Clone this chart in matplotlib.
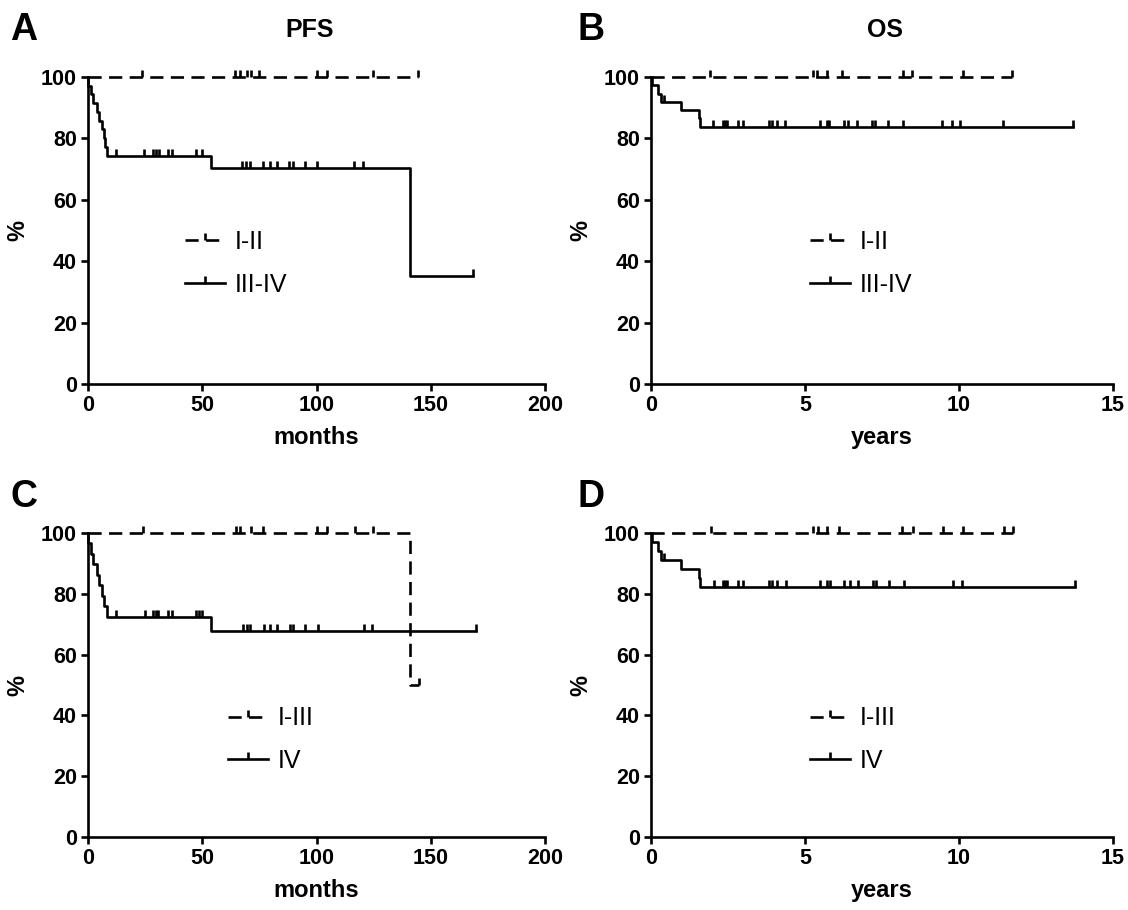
import numpy as np
import matplotlib
matplotlib.use('Agg')
import matplotlib.pyplot as plt
from matplotlib.lines import Line2D

plt.rcParams['font.family'] = ['Liberation Sans', 'DejaVu Sans']

# Data
# A: PFS (months), stage I-II vs III-IV
pfs_I_II_event_t = []
pfs_I_II_surv = []
pfs_I_II_cens = [23.6, 64.3, 66.5, 69.4, 71.5, 75.0, 100.0, 104.7, 124.6, 144.4]
pfs_III_IV_event_t = [0.2, 1.3, 2.3, 3.8, 4.8, 6.0, 6.8, 7.5, 8.3, 53.7, 140.9]
pfs_III_IV_surv = [97.1, 94.3, 91.4, 88.6, 85.7, 82.9, 80.0, 77.1, 74.3, 70.2, 35.1]
pfs_III_IV_cens = [12.3, 24.5, 28.6, 29.8, 30.9, 35.0, 36.8, 47.3, 49.9, 67.3, 69.0,
                   70.9, 76.7, 79.6, 82.6, 88.1, 89.9, 95.0, 100.4, 116.4, 120.2, 168.5]

# B: OS (years), stage I-II vs III-IV
os_I_II_event_t = []
os_I_II_surv = []
os_I_II_cens = [1.92, 5.25, 5.38, 5.73, 6.19, 8.19, 8.46, 10.12, 11.71]
os_III_IV_event_t = [0.03, 0.22, 0.32, 0.97, 1.57, 1.59]
os_III_IV_surv = [97.3, 94.6, 91.9, 89.2, 86.5, 83.8]
os_III_IV_cens = [0.42, 2.0, 2.33, 2.40, 2.48, 2.84, 3.0, 3.84, 3.92, 4.10, 4.35, 5.49,
                  5.73, 5.79, 6.27, 6.41, 6.68, 7.19, 7.27, 7.71, 8.19, 9.44, 9.76,
                  10.03, 11.44, 13.71]

# C: PFS (months), stage I-III vs IV
pfs_I_III_event_t = [140.9]
pfs_I_III_surv = [50.0]
pfs_I_III_cens = [23.9, 64.8, 66.5, 71.2, 76.4, 100.4, 104.7, 116.8, 124.9, 145.0]
pfs_IV_event_t = [0.2, 1.3, 2.3, 3.8, 4.8, 6.0, 7.2, 8.3, 53.7]
pfs_IV_surv = [96.6, 93.1, 89.7, 86.2, 82.8, 79.3, 75.9, 72.4, 67.9]
pfs_IV_cens = [12.3, 24.9, 28.6, 29.8, 30.8, 35.0, 36.8, 47.3, 48.7, 49.9, 67.7, 69.4,
               70.9, 76.9, 79.6, 82.7, 88.3, 89.8, 95.0, 100.8, 120.8, 124.2, 169.8]

# D: OS (years), stage I-III vs IV
os_I_III_event_t = []
os_I_III_surv = []
os_I_III_cens = [1.94, 5.25, 5.41, 5.73, 6.12, 8.14, 8.50, 9.49, 10.12, 11.46, 11.74]
os_IV_event_t = [0.03, 0.22, 0.32, 0.97, 1.57, 1.59]
os_IV_surv = [97.1, 94.1, 91.2, 88.2, 85.3, 82.4]
os_IV_cens = [0.42, 2.05, 2.33, 2.40, 2.48, 2.84, 3.0, 3.84, 3.92, 4.10, 4.38, 5.49,
              5.73, 5.81, 6.27, 6.46, 6.73, 7.20, 7.31, 7.74, 8.21, 9.79, 10.09, 13.77]

DASH = (5, 2.8)
LW = 1.9
UP = [(0, 0), (0, 1)]   # censor tick pointing up


def km(ax, event_t, surv, cens, dashed):
    end = max(list(cens) + list(event_t))
    t = [0] + list(event_t) + [end]
    s = [100] + list(surv) + [surv[-1] if surv else 100]
    ls = (0, DASH) if dashed else '-'
    ax.step(t, s, where='post', color='black', lw=LW, ls=ls, clip_on=False)
    idx = np.searchsorted(t, cens, side='right') - 1
    lev = np.array(s)[idx]
    ax.plot(cens, lev, ls='none', marker=UP, ms=10, mew=LW, color='black', clip_on=False)


def style(ax, xmax, xstep, xlabel):
    ax.set_xlim(0, xmax)
    ax.set_ylim(0, 100)
    ax.set_xticks(np.arange(0, xmax + 1, xstep))
    ax.set_yticks(np.arange(0, 101, 20))
    for sp in ['top', 'right']:
        ax.spines[sp].set_visible(False)
    for sp in ['left', 'bottom']:
        ax.spines[sp].set_linewidth(LW)
    ax.tick_params(direction='out', length=5, width=LW, labelsize=15.5, pad=3)
    for lab in ax.get_xticklabels() + ax.get_yticklabels():
        lab.set_fontweight('bold')
    ax.set_xlabel(xlabel, fontsize=17, fontweight='bold', labelpad=7)
    ax.set_ylabel('%', fontsize=17, fontweight='bold', labelpad=8)


def legend(ax, labels, x, y):
    handles = [Line2D([0], [0], color='black', lw=LW, ls=(0, DASH), marker=UP, ms=10, mew=LW),
               Line2D([0], [0], color='black', lw=LW, ls='-', marker=UP, ms=10, mew=LW)]
    ax.legend(handles, labels, loc='upper left', bbox_to_anchor=(x, y), frameon=False,
              fontsize=18, handlelength=1.6, handletextpad=0.4, labelspacing=0.75,
              borderpad=0, borderaxespad=0, numpoints=1)


fig = plt.figure(figsize=(11.28, 9.10), dpi=100)
W, H = 1128, 910
axA = fig.add_axes([88 / W, 1 - 384 / H, 457 / W, 307 / H])
axB = fig.add_axes([651 / W, 1 - 384 / H, 462 / W, 307 / H])
axC = fig.add_axes([88 / W, 1 - 837 / H, 457 / W, 304 / H])
axD = fig.add_axes([651 / W, 1 - 837 / H, 462 / W, 304 / H])

km(axA, pfs_I_II_event_t, pfs_I_II_surv, pfs_I_II_cens, True)
km(axA, pfs_III_IV_event_t, pfs_III_IV_surv, pfs_III_IV_cens, False)
style(axA, 200, 50, 'months')
legend(axA, ['I-II', 'III-IV'], 0.212, 0.502)

km(axB, os_I_II_event_t, os_I_II_surv, os_I_II_cens, True)
km(axB, os_III_IV_event_t, os_III_IV_surv, os_III_IV_cens, False)
style(axB, 15, 5, 'years')
legend(axB, ['I-II', 'III-IV'], 0.344, 0.502)

km(axC, pfs_I_III_event_t, pfs_I_III_surv, pfs_I_III_cens, True)
km(axC, pfs_IV_event_t, pfs_IV_surv, pfs_IV_cens, False)
style(axC, 200, 50, 'months')
legend(axC, ['I-III', 'IV'], 0.306, 0.43)

km(axD, os_I_III_event_t, os_I_III_surv, os_I_III_cens, True)
km(axD, os_IV_event_t, os_IV_surv, os_IV_cens, False)
style(axD, 15, 5, 'years')
legend(axD, ['I-III', 'IV'], 0.344, 0.43)

# Panel letters and titles
for letter, x, y in [('A', 10, 40), ('B', 578, 40), ('C', 10, 507), ('D', 578, 507)]:
    fig.text(x / W, 1 - y / H, letter, fontsize=27, fontweight='bold', ha='left', va='baseline')
fig.text(310 / W, 1 - 30 / H, 'PFS', fontsize=18, fontweight='bold', ha='center', va='center')
fig.text(885 / W, 1 - 30 / H, 'OS', fontsize=18, fontweight='bold', ha='center', va='center')

fig.savefig('out.png', dpi=100)
